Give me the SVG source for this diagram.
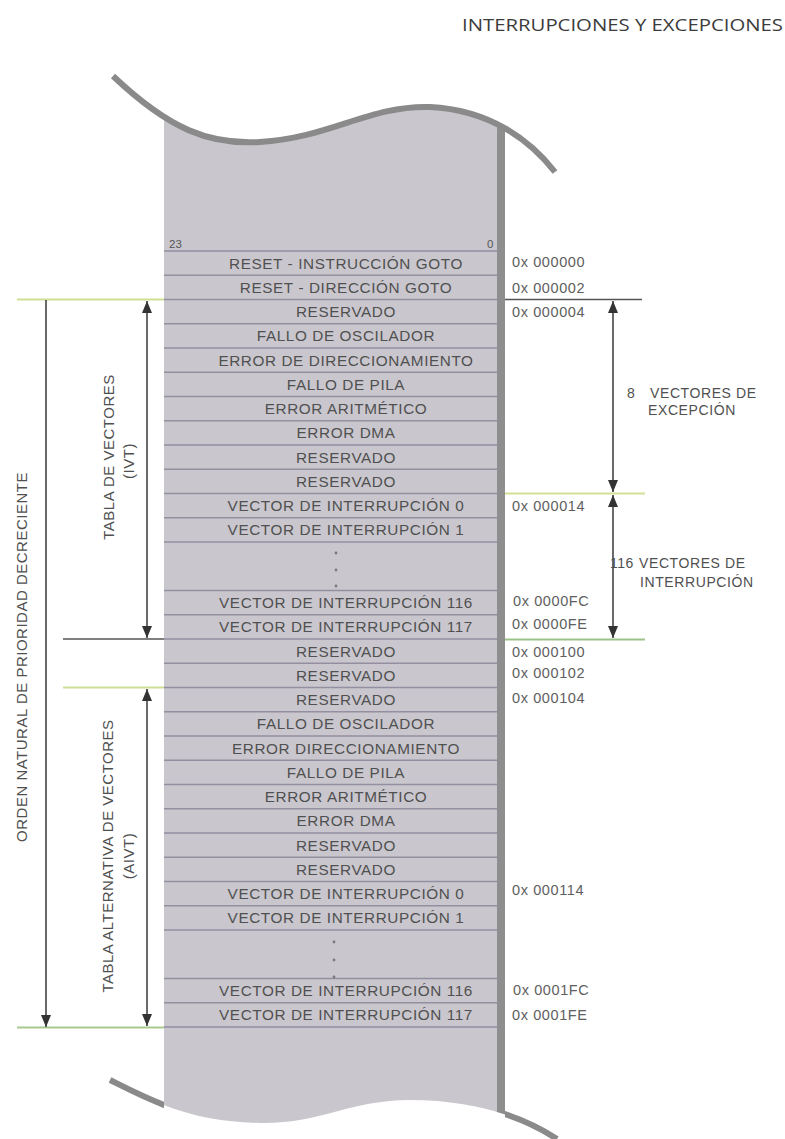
<svg xmlns="http://www.w3.org/2000/svg" width="785" height="1139" viewBox="0 0 785 1139">
<style>
.row{font-family:"Liberation Sans",Arial,sans-serif;font-size:15.3px;letter-spacing:0.6px;fill:#505050;text-anchor:middle}
.addr{font-family:"Liberation Sans",Arial,sans-serif;font-size:14.5px;letter-spacing:0.6px;fill:#606060}
.lab{font-family:"Liberation Sans",Arial,sans-serif;font-size:14px;letter-spacing:0.6px;fill:#505050}
.side{font-family:"Liberation Sans",Arial,sans-serif;font-size:15px;letter-spacing:0.5px;fill:#505050;text-anchor:middle}
.rl{stroke:#938ea0;stroke-width:1.3;fill:none}
.arr{stroke:#444;stroke-width:1.6;fill:none}
.dot{fill:#7a7a7a}
</style>
<defs>
<marker id="ah" markerUnits="userSpaceOnUse" markerWidth="12" markerHeight="10" refX="12" refY="5" orient="auto-start-reverse">
<path d="M0,0 L12,5 L0,10 z" fill="#333"/>
</marker>
<clipPath id="band">
<path d="M113,76 C170,130 210,145 260,142 C330,138 370,105 430,107 C490,110 530,140 555,172 L557,1139 C520,1115 470,1100 410,1100 C350,1100 320,1124 260,1123 C190,1122 150,1100 110,1080 Z"/>
</clipPath>
<clipPath id="outside">
<rect x="0" y="0" width="164" height="1139"/>
<rect x="505" y="0" width="280" height="1139"/>
</clipPath>
</defs>
<rect width="785" height="1139" fill="#fff"/>
<text x="462" y="31" font-family="'Open Sans',sans-serif" font-size="15.5" fill="#3c3c3c" textLength="321" lengthAdjust="spacingAndGlyphs">INTERRUPCIONES Y EXCEPCIONES</text>

<g id="memory-body">
<path d="M110,1080 C150,1100 190,1122 260,1123 C320,1124 350,1100 410,1100 C470,1100 520,1115 557,1139" stroke="#8a8a8a" stroke-width="6" fill="none" clip-path="url(#outside)"/>
<g clip-path="url(#band)">
<rect x="164" y="60" width="341" height="1079" fill="#c9c7cd"/>
<rect x="497" y="60" width="8" height="1079" fill="#8e8e8e"/>
</g>
<path d="M113,76 C170,130 210,145 260,142 C330,138 370,105 430,107 C490,110 530,140 555,172" stroke="#8a8a8a" stroke-width="6" fill="none"/>
<text x="169" y="248" font-family="'Liberation Sans',Arial,sans-serif" font-size="11.5" fill="#555">23</text>
<text x="487" y="248" font-family="'Liberation Sans',Arial,sans-serif" font-size="11.5" fill="#555">0</text>
<g id="row-lines">
<line class="rl" x1="164" x2="497" y1="251" y2="251"/>
<line class="rl" x1="164" x2="497" y1="275.25" y2="275.25"/>
<line class="rl" x1="164" x2="497" y1="299.5" y2="299.5"/>
<line class="rl" x1="164" x2="497" y1="323.75" y2="323.75"/>
<line class="rl" x1="164" x2="497" y1="348" y2="348"/>
<line class="rl" x1="164" x2="497" y1="372.25" y2="372.25"/>
<line class="rl" x1="164" x2="497" y1="396.5" y2="396.5"/>
<line class="rl" x1="164" x2="497" y1="420.75" y2="420.75"/>
<line class="rl" x1="164" x2="497" y1="445" y2="445"/>
<line class="rl" x1="164" x2="497" y1="469.25" y2="469.25"/>
<line class="rl" x1="164" x2="497" y1="493.5" y2="493.5"/>
<line class="rl" x1="164" x2="497" y1="517.75" y2="517.75"/>
<line class="rl" x1="164" x2="497" y1="542" y2="542"/>
<line class="rl" x1="164" x2="497" y1="590.5" y2="590.5"/>
<line class="rl" x1="164" x2="497" y1="614.75" y2="614.75"/>
<line class="rl" x1="164" x2="497" y1="639" y2="639"/>
<line class="rl" x1="164" x2="497" y1="663.25" y2="663.25"/>
<line class="rl" x1="164" x2="497" y1="687.5" y2="687.5"/>
<line class="rl" x1="164" x2="497" y1="711.75" y2="711.75"/>
<line class="rl" x1="164" x2="497" y1="736" y2="736"/>
<line class="rl" x1="164" x2="497" y1="760.25" y2="760.25"/>
<line class="rl" x1="164" x2="497" y1="784.5" y2="784.5"/>
<line class="rl" x1="164" x2="497" y1="808.75" y2="808.75"/>
<line class="rl" x1="164" x2="497" y1="833" y2="833"/>
<line class="rl" x1="164" x2="497" y1="857.25" y2="857.25"/>
<line class="rl" x1="164" x2="497" y1="881.5" y2="881.5"/>
<line class="rl" x1="164" x2="497" y1="905.75" y2="905.75"/>
<line class="rl" x1="164" x2="497" y1="930" y2="930"/>
<line class="rl" x1="164" x2="497" y1="978.5" y2="978.5"/>
<line class="rl" x1="164" x2="497" y1="1002.75" y2="1002.75"/>
<line class="rl" x1="164" x2="497" y1="1027" y2="1027"/>
</g>
</g>

<g id="ivt">
<g id="row-00"><text class="row" x="346" y="268.5">RESET - INSTRUCCIÓN GOTO</text><text class="addr" x="512" y="267">0x 000000</text></g>
<g id="row-01"><text class="row" x="346" y="292.8">RESET - DIRECCIÓN GOTO</text><text class="addr" x="512" y="293">0x 000002</text></g>
<g id="row-02"><text class="row" x="346" y="317">RESERVADO</text><text class="addr" x="512" y="317">0x 000004</text></g>
<g id="row-03"><text class="row" x="346" y="341.3">FALLO DE OSCILADOR</text></g>
<g id="row-04"><text class="row" x="346" y="365.5">ERROR DE DIRECCIONAMIENTO</text></g>
<g id="row-05"><text class="row" x="346" y="389.8">FALLO DE PILA</text></g>
<g id="row-06"><text class="row" x="346" y="414">ERROR ARITMÉTICO</text></g>
<g id="row-07"><text class="row" x="346" y="438.3">ERROR DMA</text></g>
<g id="row-08"><text class="row" x="346" y="462.5">RESERVADO</text></g>
<g id="row-09"><text class="row" x="346" y="486.8">RESERVADO</text></g>
<g id="row-10"><text class="row" x="346" y="511">VECTOR DE INTERRUPCIÓN 0</text><text class="addr" x="512" y="511">0x 000014</text></g>
<g id="row-11"><text class="row" x="346" y="535.3">VECTOR DE INTERRUPCIÓN 1</text></g>
<g id="row-12"><circle class="dot" cx="336" cy="553" r="1.4"/><circle class="dot" cx="336" cy="570" r="1.4"/><circle class="dot" cx="336" cy="586" r="1.4"/></g>
<g id="row-14"><text class="row" x="346" y="608">VECTOR DE INTERRUPCIÓN 116</text><text class="addr" x="513" y="606">0x 0000FC</text></g>
<g id="row-15"><text class="row" x="346" y="632.3">VECTOR DE INTERRUPCIÓN 117</text><text class="addr" x="512" y="629">0x 0000FE</text></g>
</g>

<g id="aivt">
<g id="row-16"><text class="row" x="346" y="656.5">RESERVADO</text><text class="addr" x="512" y="657">0x 000100</text></g>
<g id="row-17"><text class="row" x="346" y="680.8">RESERVADO</text><text class="addr" x="512" y="678">0x 000102</text></g>
<g id="row-18"><text class="row" x="346" y="705">RESERVADO</text><text class="addr" x="512" y="703">0x 000104</text></g>
<g id="row-19"><text class="row" x="346" y="729.3">FALLO DE OSCILADOR</text></g>
<g id="row-20"><text class="row" x="346" y="753.5">ERROR DIRECCIONAMIENTO</text></g>
<g id="row-21"><text class="row" x="346" y="777.8">FALLO DE PILA</text></g>
<g id="row-22"><text class="row" x="346" y="802">ERROR ARITMÉTICO</text></g>
<g id="row-23"><text class="row" x="346" y="826.3">ERROR DMA</text></g>
<g id="row-24"><text class="row" x="346" y="850.5">RESERVADO</text></g>
<g id="row-25"><text class="row" x="346" y="874.8">RESERVADO</text><text class="addr" x="512" y="895">0x 000114</text></g>
<g id="row-26"><text class="row" x="346" y="899">VECTOR DE INTERRUPCIÓN 0</text></g>
<g id="row-27"><text class="row" x="346" y="923.3">VECTOR DE INTERRUPCIÓN 1</text></g>
<g id="row-28"><circle class="dot" cx="334" cy="942" r="1.4"/><circle class="dot" cx="334" cy="960" r="1.4"/><circle class="dot" cx="334" cy="977" r="1.4"/></g>
<g id="row-30"><text class="row" x="346" y="996">VECTOR DE INTERRUPCIÓN 116</text><text class="addr" x="513" y="995">0x 0001FC</text></g>
<g id="row-31"><text class="row" x="346" y="1020.3">VECTOR DE INTERRUPCIÓN 117</text><text class="addr" x="512" y="1020">0x 0001FE</text></g>
</g>

<g id="connectors">
<line x1="17" y1="299.5" x2="164" y2="299.5" stroke="#cfdf95" stroke-width="2"/>
<line x1="63" y1="639" x2="164" y2="639" stroke="#555" stroke-width="1.3"/>
<line x1="63" y1="687.5" x2="164" y2="687.5" stroke="#cddf95" stroke-width="2"/>
<line x1="17" y1="1027.5" x2="164" y2="1027.5" stroke="#a9c98f" stroke-width="2"/>
<line x1="505" y1="299.5" x2="642" y2="299.5" stroke="#555" stroke-width="1.3"/>
<line x1="505" y1="493.5" x2="645" y2="493.5" stroke="#d4df95" stroke-width="2"/>
<line x1="505" y1="639.5" x2="645" y2="639.5" stroke="#9cc48a" stroke-width="2"/>
<line class="arr" x1="46" y1="300" x2="46" y2="1027" marker-end="url(#ah)"/>
<line class="arr" x1="147" y1="301" x2="147" y2="638" marker-start="url(#ah)" marker-end="url(#ah)"/>
<line class="arr" x1="147" y1="689" x2="147" y2="1026" marker-start="url(#ah)" marker-end="url(#ah)"/>
<line class="arr" x1="613" y1="301" x2="613" y2="492" marker-start="url(#ah)" marker-end="url(#ah)"/>
<line class="arr" x1="613" y1="495" x2="613" y2="638" marker-start="url(#ah)" marker-end="url(#ah)"/>
</g>

<g id="labels">
<text class="side" transform="translate(27,657) rotate(-90)">ORDEN NATURAL DE PRIORIDAD DECRECIENTE</text>
<text class="side" transform="translate(114,457) rotate(-90)">TABLA DE VECTORES</text>
<text class="side" transform="translate(134,461) rotate(-90)">(IVT)</text>
<text class="side" transform="translate(113,856) rotate(-90)">TABLA ALTERNATIVA DE VECTORES</text>
<text class="side" transform="translate(134,856) rotate(-90)">(AIVT)</text>
<text class="lab" x="627" y="398">8</text>
<text class="lab" x="650" y="398">VECTORES DE</text>
<text class="lab" x="648" y="415">EXCEPCIÓN</text>
<text class="lab" x="634" y="568" text-anchor="end" letter-spacing="0">116</text>
<text class="lab" x="639" y="568">VECTORES DE</text>
<text class="lab" x="640" y="587">INTERRUPCIÓN</text>
</g>
</svg>
